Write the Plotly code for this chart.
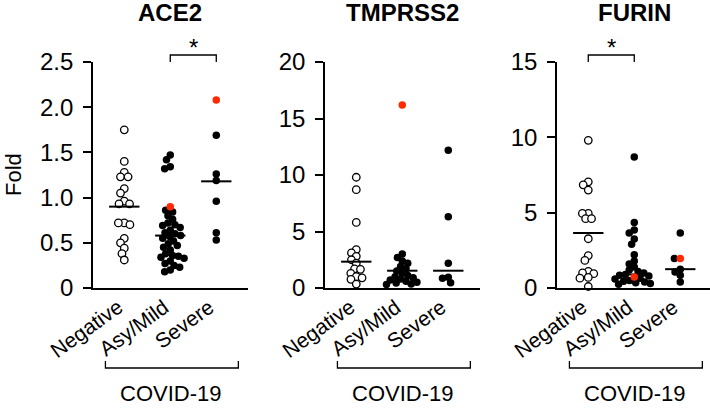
import numpy as np
import plotly.graph_objects as go

W, H = 710, 412

categories = ["Negative", "Asy/Mild", "Severe"]
panel_titles = ["ACE2", "TMPRSS2", "FURIN"]
y_max = [2.5, 20, 15]
y_tickvals = [[0, 0.5, 1.0, 1.5, 2.0, 2.5], [0, 5, 10, 15, 20], [0, 5, 10, 15]]
y_ticktext = [["0", "0.5", "1.0", "1.5", "2.0", "2.5"], ["0", "5", "10", "15", "20"], ["0", "5", "10", "15"]]
group_label = "COVID-19"
y_title = "Fold"

# ---- values ----
ace2_negative = [1.75, 1.40, 1.28, 1.23, 1.23, 1.10, 1.05, 0.96, 0.93, 0.93,
                 0.72, 0.70, 0.72, 0.55, 0.50, 0.44, 0.38, 0.31]
ace2_asymild = [1.47, 1.42, 1.34, 1.32, 0.90, 0.86, 0.84, 0.80, 0.76, 0.72,
                0.70, 0.69, 0.67, 0.64, 0.61, 0.60, 0.58, 0.57, 0.55, 0.52,
                0.49, 0.47, 0.45, 0.42, 0.38, 0.36, 0.35, 0.34, 0.33, 0.30,
                0.27, 0.25, 0.23, 0.20, 0.18]
ace2_severe = [2.08, 1.69, 1.26, 1.19, 0.96, 0.61, 0.53]
ace2_median = [0.90, 0.58, 1.18]
ace2_red = [[], [0.90], [2.08]]

tmprss2_negative = [9.8, 8.7, 5.8, 3.4, 3.1, 2.8, 2.5, 2.2, 1.7, 1.65, 1.3,
                    1.0, 0.9, 0.77, 0.35]
tmprss2_asymild = [16.2, 3.0, 2.7, 2.4, 2.2, 1.9, 1.7, 1.5, 1.3, 1.1, 1.0, 0.9,
                   0.8, 0.7, 0.6, 0.5, 0.45, 0.35, 0.3]
tmprss2_severe = [12.2, 6.3, 2.2, 0.95, 0.86, 0.47]
tmprss2_median = [2.33, 1.53, 1.53]
tmprss2_red = [[], [16.2], []]

furin_negative = [9.8, 7.05, 6.85, 6.5, 4.95, 4.95, 4.6, 4.6, 3.27, 2.15, 1.83,
                  1.1, 1.0, 0.95, 0.7, 0.65, 0.1]
furin_asymild = [8.7, 4.35, 3.85, 3.65, 3.25, 2.9, 2.2, 1.8, 1.6, 1.4, 1.2, 1.1,
                 1.0, 0.9, 0.85, 0.8, 0.73, 0.65, 0.6, 0.5, 0.45, 0.4, 0.35, 0.3,
                 0.25]
furin_severe = [3.65, 1.95, 1.95, 1.25, 1.07, 0.85, 0.4]
furin_median = [3.65, 0.90, 1.25]
furin_red = [[], [0.73], [1.95]]

panels = [
    ([ace2_negative, ace2_asymild, ace2_severe], ace2_median, ace2_red),
    ([tmprss2_negative, tmprss2_asymild, tmprss2_severe], tmprss2_median, tmprss2_red),
    ([furin_negative, furin_asymild, furin_severe], furin_median, furin_red),
]
sig_pairs = [(1, 2), None, (0, 1)]

# ---- layout geometry (pixels) ----
FONT = "Arial, Liberation Sans, sans-serif"
RED = "#ff2a00"
axis_left_px = [93, 325, 557]
panel_w_px = 155
plot_top_px, plot_bot_px = 62, 288
x_r0 = -0.68
ppu_x = 46.0
marker_size = 7.5
min_dist = 5.9


def swarm(values, ppu_y, first=()):
    vals = np.asarray(values, dtype=float)
    order = list(first) + [i for i in np.argsort(-vals, kind="stable") if i not in first]
    placed = []
    offs = np.zeros(len(vals))
    for i in order:
        y = vals[i] * ppu_y
        cands = [0.0]
        for px, py in placed:
            dy = y - py
            if abs(dy) < min_dist:
                dx = np.sqrt(min_dist ** 2 - dy ** 2)
                cands += [px + dx, px - dx]
        cands.sort(key=lambda c: (abs(c), c))
        for c in cands:
            if all((c - px) ** 2 + (y - py) ** 2 >= min_dist ** 2 - 1e-6 for px, py in placed):
                offs[i] = c
                break
        placed.append((offs[i], y))
    return offs / ppu_x


def px2paper_x(px):
    return px / W


def px2paper_y(py):
    return 1 - py / H


fig = go.Figure()
layout = dict(
    width=W, height=H, margin=dict(l=0, r=0, t=0, b=0, autoexpand=False),
    paper_bgcolor="white", plot_bgcolor="white", showlegend=False,
    font=dict(family=FONT, color="black"),
)
shapes, annotations = [], []

for p, (groups, medians, reds) in enumerate(panels):
    ax = "" if p == 0 else str(p + 1)
    xref, yref = "x" + ax, "y" + ax
    left = axis_left_px[p]
    right = min(left + panel_w_px, W)
    x_r1 = x_r0 + (right - left) / ppu_x
    ppu_y = (plot_bot_px - plot_top_px) / y_max[p]

    for g, vals in enumerate(groups):
        red_idx = []
        for rv in reds[g]:
            for i, v in enumerate(vals):
                if abs(v - rv) < 1e-9 and i not in red_idx:
                    red_idx.append(i)
                    break
        first = [] if g == 2 else red_idx
        offs = swarm(vals, ppu_y, first)
        if g == 2 and red_idx:
            rv = vals[red_idx[0]]
            same = [i for i, v in enumerate(vals) if abs(v - rv) < 1e-9]
            red_idx = [max(same, key=lambda i: offs[i])]
        is_red = np.zeros(len(vals), bool)
        is_red[red_idx] = True
        xs = g + offs
        yv = np.asarray(vals)
        if g == 0:
            mk = dict(size=marker_size, color="white", line=dict(color="black", width=1.3))
        else:
            mk = dict(size=marker_size, color="black", line=dict(width=0))
        fig.add_trace(go.Scatter(x=xs[~is_red], y=yv[~is_red], mode="markers",
                                 marker=mk, cliponaxis=False, xaxis=xref, yaxis=yref,
                                 hoverinfo="y"))
        fig.add_trace(go.Scatter(x=[g - 0.33, g + 0.33], y=[medians[g], medians[g]], mode="lines",
                                 line=dict(color="black", width=2), cliponaxis=False,
                                 xaxis=xref, yaxis=yref, hoverinfo="skip"))
        if is_red.any():
            fig.add_trace(go.Scatter(x=xs[is_red], y=yv[is_red], mode="markers",
                                     marker=dict(size=marker_size, color=RED, line=dict(width=0)),
                                     cliponaxis=False, xaxis=xref, yaxis=yref, hoverinfo="y"))

    xdom = [px2paper_x(left), px2paper_x(right)]
    ydom = [px2paper_y(plot_bot_px), px2paper_y(plot_top_px)]
    layout["xaxis" + ax] = dict(
        domain=xdom, range=[x_r0, x_r1], anchor=yref, automargin=False,
        tickmode="array", tickvals=[0, 1, 2], showticklabels=False,
        ticks="", showgrid=False, zeroline=False, showline=True, linecolor="black",
        linewidth=1.6,
    )
    layout["yaxis" + ax] = dict(
        domain=ydom, range=[0, y_max[p]], anchor=xref, automargin=False,
        tickmode="array", tickvals=y_tickvals[p], ticktext=y_ticktext[p],
        ticks="outside", ticklen=8, tickwidth=1.6, tickcolor="black",
        ticklabelstandoff=5,
        showgrid=False, zeroline=False, showline=True, linecolor="black", linewidth=1.6,
        tickfont=dict(size=24, family=FONT, color="black"),
    )

    # rotated category labels
    for g, cat in enumerate(categories):
        annotations.append(dict(text=cat, x=g, xref=xref, y=px2paper_y(292), yref="paper",
                                xshift=5, showarrow=False, textangle=-36,
                                xanchor="right", yanchor="top",
                                font=dict(size=21, family=FONT, color="black")))
    # panel title
    annotations.append(dict(text="<b>" + panel_titles[p] + "</b>", x=1, xref=xref,
                            y=px2paper_y(13), yref="paper", showarrow=False,
                            xanchor="center", yanchor="middle",
                            font=dict(size=24, family=FONT, color="black")))
    # COVID-19 bracket
    by0, by1 = px2paper_y(361), px2paper_y(368)
    bx0, bx1 = -0.41, 2.48
    shapes.append(dict(type="path", xref=xref, yref="paper",
                       path=f"M {bx0},{by0} L {bx0},{by1} L {bx1},{by1} L {bx1},{by0}",
                       line=dict(color="black", width=1.3)))
    annotations.append(dict(text=group_label, x=1, xref=xref, y=px2paper_y(393), yref="paper",
                            showarrow=False, xanchor="center", yanchor="middle",
                            font=dict(size=22, family=FONT, color="black")))
    # significance bracket
    if sig_pairs[p] is not None:
        a, b = sig_pairs[p]
        sy0, sy1 = px2paper_y(62), px2paper_y(55)
        shapes.append(dict(type="path", xref=xref, yref="paper",
                           path=f"M {a},{sy0} L {a},{sy1} L {b},{sy1} L {b},{sy0}",
                           line=dict(color="black", width=1.3)))
        annotations.append(dict(text="*", x=(a + b) / 2, xref=xref, y=px2paper_y(48), yref="paper",
                                showarrow=False, xanchor="center", yanchor="middle",
                                font=dict(size=24, family=FONT, color="black")))

annotations.append(dict(text=y_title, x=px2paper_x(14), y=px2paper_y(175), xref="paper",
                        yref="paper", showarrow=False, textangle=-90, xanchor="center",
                        yanchor="middle", font=dict(size=22, family=FONT, color="black")))

layout["shapes"] = shapes
layout["annotations"] = annotations
fig.update_layout(**layout)
fig.write_html("out.html", config={"displayModeBar": False},
               post_script="document.body.style.margin='0px';")
